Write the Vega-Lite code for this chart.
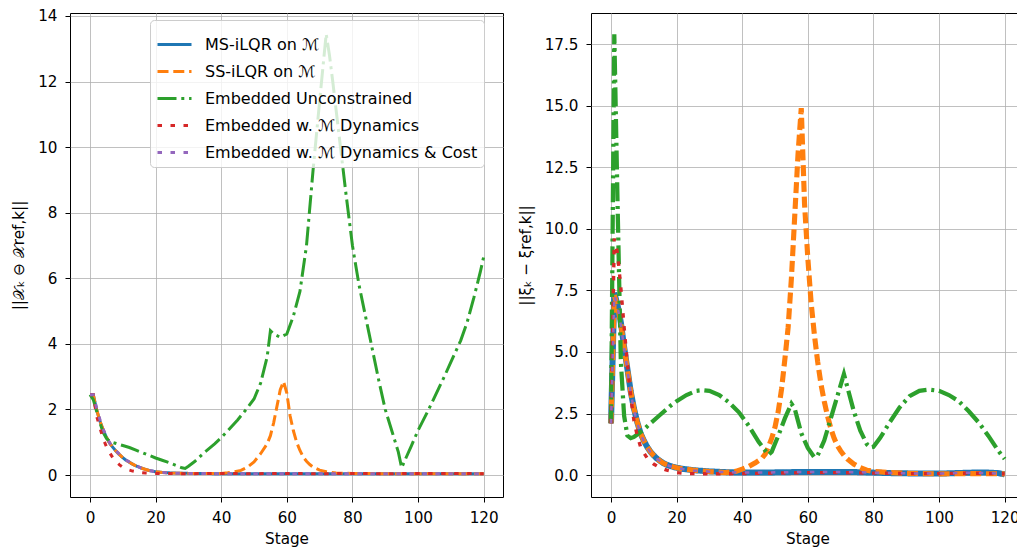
{
  "$schema": "https://vega.github.io/schema/vega-lite/v6.json",
  "padding": {"left": 11, "top": 8, "right": 0, "bottom": 0},
  "spacing": 13,
  "background": "white",
  "config": {
    "font": "DejaVu Sans",
    "view": {"stroke": "black", "strokeWidth": 1},
    "axis": {"domain": false, "grid": true, "gridColor": "#b0b0b0", "gridWidth": 0.8, "tickColor": "black", "tickSize": 5, "tickWidth": 1, "labelFont": "DejaVu Sans", "labelFontSize": 15.2, "labelColor": "black", "titleFont": "DejaVu Sans", "titleFontSize": 15.2, "titleFontWeight": "normal", "titleColor": "black", "labelPadding": 8, "labelFlush": false, "labelOverlap": false}
  },
  "datasets": {
    "left": [
      {"s":0,"v":2.45,"k":"MS-iLQR on ℳ"},{"s":1,"v":2.45,"k":"MS-iLQR on ℳ"},{"s":2,"v":2.0,"k":"MS-iLQR on ℳ"},{"s":3,"v":1.65,"k":"MS-iLQR on ℳ"},{"s":4,"v":1.38,"k":"MS-iLQR on ℳ"},{"s":5,"v":1.15,"k":"MS-iLQR on ℳ"},{"s":6,"v":0.97,"k":"MS-iLQR on ℳ"},{"s":7,"v":0.84,"k":"MS-iLQR on ℳ"},{"s":8,"v":0.72,"k":"MS-iLQR on ℳ"},{"s":9,"v":0.62,"k":"MS-iLQR on ℳ"},{"s":10,"v":0.53,"k":"MS-iLQR on ℳ"},{"s":11,"v":0.45,"k":"MS-iLQR on ℳ"},{"s":12,"v":0.39,"k":"MS-iLQR on ℳ"},{"s":13,"v":0.33,"k":"MS-iLQR on ℳ"},{"s":14,"v":0.28,"k":"MS-iLQR on ℳ"},{"s":15,"v":0.24,"k":"MS-iLQR on ℳ"},{"s":16,"v":0.2,"k":"MS-iLQR on ℳ"},{"s":17,"v":0.17,"k":"MS-iLQR on ℳ"},{"s":18,"v":0.14,"k":"MS-iLQR on ℳ"},{"s":20,"v":0.1,"k":"MS-iLQR on ℳ"},{"s":22,"v":0.08,"k":"MS-iLQR on ℳ"},{"s":25,"v":0.06,"k":"MS-iLQR on ℳ"},{"s":30,"v":0.05,"k":"MS-iLQR on ℳ"},{"s":40,"v":0.04,"k":"MS-iLQR on ℳ"},{"s":50,"v":0.04,"k":"MS-iLQR on ℳ"},{"s":60,"v":0.04,"k":"MS-iLQR on ℳ"},{"s":70,"v":0.04,"k":"MS-iLQR on ℳ"},{"s":80,"v":0.04,"k":"MS-iLQR on ℳ"},{"s":90,"v":0.04,"k":"MS-iLQR on ℳ"},{"s":100,"v":0.04,"k":"MS-iLQR on ℳ"},{"s":110,"v":0.04,"k":"MS-iLQR on ℳ"},{"s":120,"v":0.04,"k":"MS-iLQR on ℳ"},

      {"s":0,"v":2.45,"k":"SS-iLQR on ℳ"},{"s":1,"v":2.45,"k":"SS-iLQR on ℳ"},{"s":2,"v":2.0,"k":"SS-iLQR on ℳ"},{"s":3,"v":1.65,"k":"SS-iLQR on ℳ"},{"s":4,"v":1.38,"k":"SS-iLQR on ℳ"},{"s":5,"v":1.15,"k":"SS-iLQR on ℳ"},{"s":6,"v":0.97,"k":"SS-iLQR on ℳ"},{"s":7,"v":0.84,"k":"SS-iLQR on ℳ"},{"s":8,"v":0.72,"k":"SS-iLQR on ℳ"},{"s":9,"v":0.62,"k":"SS-iLQR on ℳ"},{"s":10,"v":0.53,"k":"SS-iLQR on ℳ"},{"s":11,"v":0.45,"k":"SS-iLQR on ℳ"},{"s":12,"v":0.39,"k":"SS-iLQR on ℳ"},{"s":13,"v":0.33,"k":"SS-iLQR on ℳ"},{"s":14,"v":0.28,"k":"SS-iLQR on ℳ"},{"s":15,"v":0.24,"k":"SS-iLQR on ℳ"},{"s":16,"v":0.2,"k":"SS-iLQR on ℳ"},{"s":17,"v":0.17,"k":"SS-iLQR on ℳ"},{"s":18,"v":0.14,"k":"SS-iLQR on ℳ"},{"s":20,"v":0.1,"k":"SS-iLQR on ℳ"},{"s":22,"v":0.08,"k":"SS-iLQR on ℳ"},{"s":25,"v":0.06,"k":"SS-iLQR on ℳ"},{"s":30,"v":0.05,"k":"SS-iLQR on ℳ"},{"s":35,"v":0.05,"k":"SS-iLQR on ℳ"},{"s":40,"v":0.05,"k":"SS-iLQR on ℳ"},{"s":42,"v":0.07,"k":"SS-iLQR on ℳ"},{"s":44,"v":0.1,"k":"SS-iLQR on ℳ"},{"s":46,"v":0.14,"k":"SS-iLQR on ℳ"},{"s":48,"v":0.24,"k":"SS-iLQR on ℳ"},{"s":50,"v":0.4,"k":"SS-iLQR on ℳ"},{"s":52,"v":0.65,"k":"SS-iLQR on ℳ"},{"s":54,"v":0.95,"k":"SS-iLQR on ℳ"},{"s":55,"v":1.2,"k":"SS-iLQR on ℳ"},{"s":56,"v":1.6,"k":"SS-iLQR on ℳ"},{"s":57,"v":2.1,"k":"SS-iLQR on ℳ"},{"s":58,"v":2.6,"k":"SS-iLQR on ℳ"},{"s":59,"v":2.85,"k":"SS-iLQR on ℳ"},{"s":60,"v":2.5,"k":"SS-iLQR on ℳ"},{"s":61,"v":1.8,"k":"SS-iLQR on ℳ"},{"s":62,"v":1.35,"k":"SS-iLQR on ℳ"},{"s":63,"v":1.0,"k":"SS-iLQR on ℳ"},{"s":64,"v":0.75,"k":"SS-iLQR on ℳ"},{"s":65,"v":0.55,"k":"SS-iLQR on ℳ"},{"s":66,"v":0.42,"k":"SS-iLQR on ℳ"},{"s":67,"v":0.32,"k":"SS-iLQR on ℳ"},{"s":68,"v":0.24,"k":"SS-iLQR on ℳ"},{"s":70,"v":0.15,"k":"SS-iLQR on ℳ"},{"s":72,"v":0.1,"k":"SS-iLQR on ℳ"},{"s":75,"v":0.06,"k":"SS-iLQR on ℳ"},{"s":80,"v":0.05,"k":"SS-iLQR on ℳ"},{"s":90,"v":0.04,"k":"SS-iLQR on ℳ"},{"s":100,"v":0.04,"k":"SS-iLQR on ℳ"},{"s":110,"v":0.04,"k":"SS-iLQR on ℳ"},{"s":120,"v":0.04,"k":"SS-iLQR on ℳ"},

      {"s":0,"v":2.45,"k":"Embedded Unconstrained"},{"s":1,"v":2.3,"k":"Embedded Unconstrained"},{"s":2,"v":1.95,"k":"Embedded Unconstrained"},{"s":3,"v":1.6,"k":"Embedded Unconstrained"},{"s":4,"v":1.3,"k":"Embedded Unconstrained"},{"s":5,"v":1.12,"k":"Embedded Unconstrained"},{"s":6,"v":1.03,"k":"Embedded Unconstrained"},{"s":7,"v":0.99,"k":"Embedded Unconstrained"},{"s":8,"v":0.96,"k":"Embedded Unconstrained"},{"s":10,"v":0.9,"k":"Embedded Unconstrained"},{"s":12,"v":0.84,"k":"Embedded Unconstrained"},{"s":14,"v":0.76,"k":"Embedded Unconstrained"},{"s":16,"v":0.68,"k":"Embedded Unconstrained"},{"s":18,"v":0.6,"k":"Embedded Unconstrained"},{"s":20,"v":0.52,"k":"Embedded Unconstrained"},{"s":22,"v":0.45,"k":"Embedded Unconstrained"},{"s":24,"v":0.38,"k":"Embedded Unconstrained"},{"s":26,"v":0.3,"k":"Embedded Unconstrained"},{"s":28,"v":0.22,"k":"Embedded Unconstrained"},{"s":29,"v":0.2,"k":"Embedded Unconstrained"},{"s":30,"v":0.27,"k":"Embedded Unconstrained"},{"s":32,"v":0.42,"k":"Embedded Unconstrained"},{"s":35,"v":0.7,"k":"Embedded Unconstrained"},{"s":38,"v":0.95,"k":"Embedded Unconstrained"},{"s":40,"v":1.14,"k":"Embedded Unconstrained"},{"s":42,"v":1.35,"k":"Embedded Unconstrained"},{"s":45,"v":1.68,"k":"Embedded Unconstrained"},{"s":48,"v":2.05,"k":"Embedded Unconstrained"},{"s":50,"v":2.32,"k":"Embedded Unconstrained"},{"s":52,"v":2.8,"k":"Embedded Unconstrained"},{"s":54,"v":3.6,"k":"Embedded Unconstrained"},{"s":55,"v":4.4,"k":"Embedded Unconstrained"},{"s":56,"v":4.3,"k":"Embedded Unconstrained"},{"s":58,"v":4.2,"k":"Embedded Unconstrained"},{"s":60,"v":4.3,"k":"Embedded Unconstrained"},{"s":62,"v":4.85,"k":"Embedded Unconstrained"},{"s":64,"v":5.6,"k":"Embedded Unconstrained"},{"s":66,"v":7.0,"k":"Embedded Unconstrained"},{"s":68,"v":9.3,"k":"Embedded Unconstrained"},{"s":70,"v":11.4,"k":"Embedded Unconstrained"},{"s":72,"v":13.45,"k":"Embedded Unconstrained"},{"s":73,"v":12.8,"k":"Embedded Unconstrained"},{"s":74,"v":12.0,"k":"Embedded Unconstrained"},{"s":76,"v":10.3,"k":"Embedded Unconstrained"},{"s":78,"v":8.6,"k":"Embedded Unconstrained"},{"s":80,"v":7.0,"k":"Embedded Unconstrained"},{"s":82,"v":5.8,"k":"Embedded Unconstrained"},{"s":85,"v":4.35,"k":"Embedded Unconstrained"},{"s":88,"v":2.9,"k":"Embedded Unconstrained"},{"s":90,"v":2.0,"k":"Embedded Unconstrained"},{"s":92,"v":1.35,"k":"Embedded Unconstrained"},{"s":94,"v":0.7,"k":"Embedded Unconstrained"},{"s":95,"v":0.22,"k":"Embedded Unconstrained"},{"s":96,"v":0.45,"k":"Embedded Unconstrained"},{"s":98,"v":0.9,"k":"Embedded Unconstrained"},{"s":100,"v":1.36,"k":"Embedded Unconstrained"},{"s":103,"v":1.95,"k":"Embedded Unconstrained"},{"s":105,"v":2.37,"k":"Embedded Unconstrained"},{"s":108,"v":3.0,"k":"Embedded Unconstrained"},{"s":110,"v":3.44,"k":"Embedded Unconstrained"},{"s":113,"v":4.1,"k":"Embedded Unconstrained"},{"s":115,"v":4.67,"k":"Embedded Unconstrained"},{"s":117,"v":5.4,"k":"Embedded Unconstrained"},{"s":119,"v":6.2,"k":"Embedded Unconstrained"},{"s":120,"v":6.65,"k":"Embedded Unconstrained"},

      {"s":0,"v":2.45,"k":"Embedded w. ℳ Dynamics"},{"s":1,"v":2.45,"k":"Embedded w. ℳ Dynamics"},{"s":2,"v":1.8,"k":"Embedded w. ℳ Dynamics"},{"s":3,"v":1.45,"k":"Embedded w. ℳ Dynamics"},{"s":4,"v":1.1,"k":"Embedded w. ℳ Dynamics"},{"s":5,"v":0.87,"k":"Embedded w. ℳ Dynamics"},{"s":6,"v":0.68,"k":"Embedded w. ℳ Dynamics"},{"s":7,"v":0.52,"k":"Embedded w. ℳ Dynamics"},{"s":8,"v":0.4,"k":"Embedded w. ℳ Dynamics"},{"s":9,"v":0.31,"k":"Embedded w. ℳ Dynamics"},{"s":10,"v":0.24,"k":"Embedded w. ℳ Dynamics"},{"s":11,"v":0.19,"k":"Embedded w. ℳ Dynamics"},{"s":12,"v":0.15,"k":"Embedded w. ℳ Dynamics"},{"s":13,"v":0.12,"k":"Embedded w. ℳ Dynamics"},{"s":14,"v":0.1,"k":"Embedded w. ℳ Dynamics"},{"s":15,"v":0.08,"k":"Embedded w. ℳ Dynamics"},{"s":17,"v":0.06,"k":"Embedded w. ℳ Dynamics"},{"s":20,"v":0.05,"k":"Embedded w. ℳ Dynamics"},{"s":30,"v":0.04,"k":"Embedded w. ℳ Dynamics"},{"s":40,"v":0.05,"k":"Embedded w. ℳ Dynamics"},{"s":50,"v":0.04,"k":"Embedded w. ℳ Dynamics"},{"s":60,"v":0.05,"k":"Embedded w. ℳ Dynamics"},{"s":70,"v":0.04,"k":"Embedded w. ℳ Dynamics"},{"s":80,"v":0.05,"k":"Embedded w. ℳ Dynamics"},{"s":90,"v":0.04,"k":"Embedded w. ℳ Dynamics"},{"s":100,"v":0.05,"k":"Embedded w. ℳ Dynamics"},{"s":110,"v":0.05,"k":"Embedded w. ℳ Dynamics"},{"s":120,"v":0.04,"k":"Embedded w. ℳ Dynamics"},

      {"s":0,"v":2.45,"k":"Embedded w. ℳ Dynamics & Cost"},{"s":1,"v":2.45,"k":"Embedded w. ℳ Dynamics & Cost"},{"s":2,"v":2.05,"k":"Embedded w. ℳ Dynamics & Cost"},{"s":3,"v":1.7,"k":"Embedded w. ℳ Dynamics & Cost"},{"s":4,"v":1.4,"k":"Embedded w. ℳ Dynamics & Cost"},{"s":5,"v":1.17,"k":"Embedded w. ℳ Dynamics & Cost"},{"s":6,"v":0.98,"k":"Embedded w. ℳ Dynamics & Cost"},{"s":7,"v":0.85,"k":"Embedded w. ℳ Dynamics & Cost"},{"s":8,"v":0.73,"k":"Embedded w. ℳ Dynamics & Cost"},{"s":9,"v":0.63,"k":"Embedded w. ℳ Dynamics & Cost"},{"s":10,"v":0.54,"k":"Embedded w. ℳ Dynamics & Cost"},{"s":11,"v":0.46,"k":"Embedded w. ℳ Dynamics & Cost"},{"s":12,"v":0.4,"k":"Embedded w. ℳ Dynamics & Cost"},{"s":13,"v":0.34,"k":"Embedded w. ℳ Dynamics & Cost"},{"s":14,"v":0.29,"k":"Embedded w. ℳ Dynamics & Cost"},{"s":15,"v":0.24,"k":"Embedded w. ℳ Dynamics & Cost"},{"s":16,"v":0.2,"k":"Embedded w. ℳ Dynamics & Cost"},{"s":17,"v":0.17,"k":"Embedded w. ℳ Dynamics & Cost"},{"s":18,"v":0.14,"k":"Embedded w. ℳ Dynamics & Cost"},{"s":20,"v":0.1,"k":"Embedded w. ℳ Dynamics & Cost"},{"s":22,"v":0.08,"k":"Embedded w. ℳ Dynamics & Cost"},{"s":25,"v":0.06,"k":"Embedded w. ℳ Dynamics & Cost"},{"s":30,"v":0.05,"k":"Embedded w. ℳ Dynamics & Cost"},{"s":40,"v":0.04,"k":"Embedded w. ℳ Dynamics & Cost"},{"s":60,"v":0.04,"k":"Embedded w. ℳ Dynamics & Cost"},{"s":80,"v":0.04,"k":"Embedded w. ℳ Dynamics & Cost"},{"s":100,"v":0.04,"k":"Embedded w. ℳ Dynamics & Cost"},{"s":120,"v":0.04,"k":"Embedded w. ℳ Dynamics & Cost"}
    ],
    "right": [
      {"s":0,"v":2.1,"k":"MS-iLQR on ℳ"},{"s":1,"v":7.4,"k":"MS-iLQR on ℳ"},{"s":2,"v":6.9,"k":"MS-iLQR on ℳ"},{"s":3,"v":6.2,"k":"MS-iLQR on ℳ"},{"s":4,"v":5.2,"k":"MS-iLQR on ℳ"},{"s":5,"v":4.3,"k":"MS-iLQR on ℳ"},{"s":6,"v":3.4,"k":"MS-iLQR on ℳ"},{"s":7,"v":2.7,"k":"MS-iLQR on ℳ"},{"s":8,"v":2.15,"k":"MS-iLQR on ℳ"},{"s":9,"v":1.7,"k":"MS-iLQR on ℳ"},{"s":10,"v":1.4,"k":"MS-iLQR on ℳ"},{"s":11,"v":1.15,"k":"MS-iLQR on ℳ"},{"s":12,"v":0.95,"k":"MS-iLQR on ℳ"},{"s":13,"v":0.8,"k":"MS-iLQR on ℳ"},{"s":14,"v":0.67,"k":"MS-iLQR on ℳ"},{"s":15,"v":0.57,"k":"MS-iLQR on ℳ"},{"s":16,"v":0.48,"k":"MS-iLQR on ℳ"},{"s":17,"v":0.42,"k":"MS-iLQR on ℳ"},{"s":18,"v":0.37,"k":"MS-iLQR on ℳ"},{"s":19,"v":0.33,"k":"MS-iLQR on ℳ"},{"s":20,"v":0.3,"k":"MS-iLQR on ℳ"},{"s":22,"v":0.25,"k":"MS-iLQR on ℳ"},{"s":25,"v":0.2,"k":"MS-iLQR on ℳ"},{"s":28,"v":0.17,"k":"MS-iLQR on ℳ"},{"s":30,"v":0.15,"k":"MS-iLQR on ℳ"},{"s":35,"v":0.12,"k":"MS-iLQR on ℳ"},{"s":40,"v":0.1,"k":"MS-iLQR on ℳ"},{"s":45,"v":0.1,"k":"MS-iLQR on ℳ"},{"s":50,"v":0.11,"k":"MS-iLQR on ℳ"},{"s":55,"v":0.12,"k":"MS-iLQR on ℳ"},{"s":60,"v":0.13,"k":"MS-iLQR on ℳ"},{"s":65,"v":0.13,"k":"MS-iLQR on ℳ"},{"s":70,"v":0.13,"k":"MS-iLQR on ℳ"},{"s":75,"v":0.12,"k":"MS-iLQR on ℳ"},{"s":80,"v":0.1,"k":"MS-iLQR on ℳ"},{"s":85,"v":0.08,"k":"MS-iLQR on ℳ"},{"s":90,"v":0.07,"k":"MS-iLQR on ℳ"},{"s":95,"v":0.06,"k":"MS-iLQR on ℳ"},{"s":100,"v":0.06,"k":"MS-iLQR on ℳ"},{"s":105,"v":0.08,"k":"MS-iLQR on ℳ"},{"s":110,"v":0.1,"k":"MS-iLQR on ℳ"},{"s":115,"v":0.1,"k":"MS-iLQR on ℳ"},{"s":118,"v":0.08,"k":"MS-iLQR on ℳ"},{"s":120,"v":0.03,"k":"MS-iLQR on ℳ"},

      {"s":0,"v":2.1,"k":"SS-iLQR on ℳ"},{"s":1,"v":7.3,"k":"SS-iLQR on ℳ"},{"s":2,"v":6.85,"k":"SS-iLQR on ℳ"},{"s":3,"v":6.15,"k":"SS-iLQR on ℳ"},{"s":4,"v":5.2,"k":"SS-iLQR on ℳ"},{"s":5,"v":4.3,"k":"SS-iLQR on ℳ"},{"s":6,"v":3.4,"k":"SS-iLQR on ℳ"},{"s":7,"v":2.7,"k":"SS-iLQR on ℳ"},{"s":8,"v":2.15,"k":"SS-iLQR on ℳ"},{"s":9,"v":1.7,"k":"SS-iLQR on ℳ"},{"s":10,"v":1.4,"k":"SS-iLQR on ℳ"},{"s":11,"v":1.15,"k":"SS-iLQR on ℳ"},{"s":12,"v":0.95,"k":"SS-iLQR on ℳ"},{"s":13,"v":0.8,"k":"SS-iLQR on ℳ"},{"s":14,"v":0.67,"k":"SS-iLQR on ℳ"},{"s":15,"v":0.57,"k":"SS-iLQR on ℳ"},{"s":16,"v":0.48,"k":"SS-iLQR on ℳ"},{"s":17,"v":0.42,"k":"SS-iLQR on ℳ"},{"s":18,"v":0.37,"k":"SS-iLQR on ℳ"},{"s":20,"v":0.3,"k":"SS-iLQR on ℳ"},{"s":22,"v":0.25,"k":"SS-iLQR on ℳ"},{"s":25,"v":0.2,"k":"SS-iLQR on ℳ"},{"s":30,"v":0.14,"k":"SS-iLQR on ℳ"},{"s":35,"v":0.1,"k":"SS-iLQR on ℳ"},{"s":38,"v":0.15,"k":"SS-iLQR on ℳ"},{"s":40,"v":0.24,"k":"SS-iLQR on ℳ"},{"s":42,"v":0.35,"k":"SS-iLQR on ℳ"},{"s":44,"v":0.5,"k":"SS-iLQR on ℳ"},{"s":46,"v":0.68,"k":"SS-iLQR on ℳ"},{"s":47,"v":0.85,"k":"SS-iLQR on ℳ"},{"s":48,"v":1.15,"k":"SS-iLQR on ℳ"},{"s":49,"v":1.5,"k":"SS-iLQR on ℳ"},{"s":50,"v":1.95,"k":"SS-iLQR on ℳ"},{"s":51,"v":2.6,"k":"SS-iLQR on ℳ"},{"s":52,"v":3.5,"k":"SS-iLQR on ℳ"},{"s":53,"v":4.7,"k":"SS-iLQR on ℳ"},{"s":54,"v":6.0,"k":"SS-iLQR on ℳ"},{"s":55,"v":8.0,"k":"SS-iLQR on ℳ"},{"s":56,"v":10.5,"k":"SS-iLQR on ℳ"},{"s":57,"v":13.0,"k":"SS-iLQR on ℳ"},{"s":58,"v":14.9,"k":"SS-iLQR on ℳ"},{"s":59,"v":11.0,"k":"SS-iLQR on ℳ"},{"s":60,"v":8.8,"k":"SS-iLQR on ℳ"},{"s":61,"v":7.0,"k":"SS-iLQR on ℳ"},{"s":62,"v":5.7,"k":"SS-iLQR on ℳ"},{"s":63,"v":4.6,"k":"SS-iLQR on ℳ"},{"s":64,"v":3.7,"k":"SS-iLQR on ℳ"},{"s":65,"v":3.0,"k":"SS-iLQR on ℳ"},{"s":66,"v":2.4,"k":"SS-iLQR on ℳ"},{"s":67,"v":1.9,"k":"SS-iLQR on ℳ"},{"s":68,"v":1.5,"k":"SS-iLQR on ℳ"},{"s":69,"v":1.2,"k":"SS-iLQR on ℳ"},{"s":70,"v":0.98,"k":"SS-iLQR on ℳ"},{"s":71,"v":0.8,"k":"SS-iLQR on ℳ"},{"s":72,"v":0.66,"k":"SS-iLQR on ℳ"},{"s":74,"v":0.45,"k":"SS-iLQR on ℳ"},{"s":76,"v":0.3,"k":"SS-iLQR on ℳ"},{"s":78,"v":0.2,"k":"SS-iLQR on ℳ"},{"s":80,"v":0.15,"k":"SS-iLQR on ℳ"},{"s":85,"v":0.1,"k":"SS-iLQR on ℳ"},{"s":90,"v":0.07,"k":"SS-iLQR on ℳ"},{"s":100,"v":0.05,"k":"SS-iLQR on ℳ"},{"s":110,"v":0.06,"k":"SS-iLQR on ℳ"},{"s":120,"v":0.05,"k":"SS-iLQR on ℳ"},

      {"s":0,"v":2.1,"k":"Embedded Unconstrained"},{"s":1,"v":17.9,"k":"Embedded Unconstrained"},{"s":2,"v":11.0,"k":"Embedded Unconstrained"},{"s":3,"v":4.6,"k":"Embedded Unconstrained"},{"s":4,"v":2.4,"k":"Embedded Unconstrained"},{"s":5,"v":1.6,"k":"Embedded Unconstrained"},{"s":6,"v":1.5,"k":"Embedded Unconstrained"},{"s":7,"v":1.55,"k":"Embedded Unconstrained"},{"s":8,"v":1.65,"k":"Embedded Unconstrained"},{"s":10,"v":1.85,"k":"Embedded Unconstrained"},{"s":12,"v":2.1,"k":"Embedded Unconstrained"},{"s":15,"v":2.45,"k":"Embedded Unconstrained"},{"s":18,"v":2.8,"k":"Embedded Unconstrained"},{"s":20,"v":3.0,"k":"Embedded Unconstrained"},{"s":23,"v":3.25,"k":"Embedded Unconstrained"},{"s":26,"v":3.42,"k":"Embedded Unconstrained"},{"s":28,"v":3.45,"k":"Embedded Unconstrained"},{"s":30,"v":3.42,"k":"Embedded Unconstrained"},{"s":33,"v":3.25,"k":"Embedded Unconstrained"},{"s":36,"v":2.95,"k":"Embedded Unconstrained"},{"s":39,"v":2.55,"k":"Embedded Unconstrained"},{"s":42,"v":2.0,"k":"Embedded Unconstrained"},{"s":45,"v":1.35,"k":"Embedded Unconstrained"},{"s":48,"v":0.82,"k":"Embedded Unconstrained"},{"s":49,"v":0.95,"k":"Embedded Unconstrained"},{"s":51,"v":1.6,"k":"Embedded Unconstrained"},{"s":53,"v":2.3,"k":"Embedded Unconstrained"},{"s":55,"v":2.9,"k":"Embedded Unconstrained"},{"s":56,"v":2.7,"k":"Embedded Unconstrained"},{"s":57,"v":2.2,"k":"Embedded Unconstrained"},{"s":58,"v":1.7,"k":"Embedded Unconstrained"},{"s":60,"v":1.1,"k":"Embedded Unconstrained"},{"s":62,"v":0.72,"k":"Embedded Unconstrained"},{"s":63,"v":0.8,"k":"Embedded Unconstrained"},{"s":65,"v":1.4,"k":"Embedded Unconstrained"},{"s":67,"v":2.3,"k":"Embedded Unconstrained"},{"s":69,"v":3.2,"k":"Embedded Unconstrained"},{"s":71,"v":4.1,"k":"Embedded Unconstrained"},{"s":72,"v":3.6,"k":"Embedded Unconstrained"},{"s":74,"v":2.6,"k":"Embedded Unconstrained"},{"s":76,"v":1.8,"k":"Embedded Unconstrained"},{"s":78,"v":1.25,"k":"Embedded Unconstrained"},{"s":79,"v":1.12,"k":"Embedded Unconstrained"},{"s":80,"v":1.15,"k":"Embedded Unconstrained"},{"s":82,"v":1.5,"k":"Embedded Unconstrained"},{"s":85,"v":2.15,"k":"Embedded Unconstrained"},{"s":88,"v":2.75,"k":"Embedded Unconstrained"},{"s":91,"v":3.2,"k":"Embedded Unconstrained"},{"s":94,"v":3.42,"k":"Embedded Unconstrained"},{"s":97,"v":3.47,"k":"Embedded Unconstrained"},{"s":100,"v":3.42,"k":"Embedded Unconstrained"},{"s":103,"v":3.25,"k":"Embedded Unconstrained"},{"s":106,"v":3.0,"k":"Embedded Unconstrained"},{"s":109,"v":2.6,"k":"Embedded Unconstrained"},{"s":112,"v":2.15,"k":"Embedded Unconstrained"},{"s":115,"v":1.6,"k":"Embedded Unconstrained"},{"s":118,"v":1.0,"k":"Embedded Unconstrained"},{"s":120,"v":0.65,"k":"Embedded Unconstrained"},

      {"s":0,"v":2.1,"k":"Embedded w. ℳ Dynamics"},{"s":1,"v":9.6,"k":"Embedded w. ℳ Dynamics"},{"s":2,"v":9.0,"k":"Embedded w. ℳ Dynamics"},{"s":3,"v":7.6,"k":"Embedded w. ℳ Dynamics"},{"s":4,"v":6.0,"k":"Embedded w. ℳ Dynamics"},{"s":5,"v":4.5,"k":"Embedded w. ℳ Dynamics"},{"s":6,"v":3.2,"k":"Embedded w. ℳ Dynamics"},{"s":7,"v":2.2,"k":"Embedded w. ℳ Dynamics"},{"s":8,"v":1.6,"k":"Embedded w. ℳ Dynamics"},{"s":9,"v":1.15,"k":"Embedded w. ℳ Dynamics"},{"s":10,"v":0.9,"k":"Embedded w. ℳ Dynamics"},{"s":11,"v":0.7,"k":"Embedded w. ℳ Dynamics"},{"s":12,"v":0.55,"k":"Embedded w. ℳ Dynamics"},{"s":13,"v":0.45,"k":"Embedded w. ℳ Dynamics"},{"s":14,"v":0.37,"k":"Embedded w. ℳ Dynamics"},{"s":15,"v":0.3,"k":"Embedded w. ℳ Dynamics"},{"s":17,"v":0.2,"k":"Embedded w. ℳ Dynamics"},{"s":20,"v":0.1,"k":"Embedded w. ℳ Dynamics"},{"s":23,"v":0.06,"k":"Embedded w. ℳ Dynamics"},{"s":30,"v":0.05,"k":"Embedded w. ℳ Dynamics"},{"s":40,"v":0.06,"k":"Embedded w. ℳ Dynamics"},{"s":50,"v":0.08,"k":"Embedded w. ℳ Dynamics"},{"s":60,"v":0.1,"k":"Embedded w. ℳ Dynamics"},{"s":70,"v":0.1,"k":"Embedded w. ℳ Dynamics"},{"s":80,"v":0.08,"k":"Embedded w. ℳ Dynamics"},{"s":90,"v":0.06,"k":"Embedded w. ℳ Dynamics"},{"s":100,"v":0.06,"k":"Embedded w. ℳ Dynamics"},{"s":110,"v":0.08,"k":"Embedded w. ℳ Dynamics"},{"s":120,"v":0.05,"k":"Embedded w. ℳ Dynamics"},

      {"s":0,"v":2.1,"k":"Embedded w. ℳ Dynamics & Cost"},{"s":1,"v":7.3,"k":"Embedded w. ℳ Dynamics & Cost"},{"s":2,"v":6.85,"k":"Embedded w. ℳ Dynamics & Cost"},{"s":3,"v":6.1,"k":"Embedded w. ℳ Dynamics & Cost"},{"s":4,"v":5.15,"k":"Embedded w. ℳ Dynamics & Cost"},{"s":5,"v":4.25,"k":"Embedded w. ℳ Dynamics & Cost"},{"s":6,"v":3.35,"k":"Embedded w. ℳ Dynamics & Cost"},{"s":7,"v":2.65,"k":"Embedded w. ℳ Dynamics & Cost"},{"s":8,"v":2.1,"k":"Embedded w. ℳ Dynamics & Cost"},{"s":9,"v":1.68,"k":"Embedded w. ℳ Dynamics & Cost"},{"s":10,"v":1.38,"k":"Embedded w. ℳ Dynamics & Cost"},{"s":11,"v":1.13,"k":"Embedded w. ℳ Dynamics & Cost"},{"s":12,"v":0.93,"k":"Embedded w. ℳ Dynamics & Cost"},{"s":13,"v":0.78,"k":"Embedded w. ℳ Dynamics & Cost"},{"s":14,"v":0.66,"k":"Embedded w. ℳ Dynamics & Cost"},{"s":15,"v":0.56,"k":"Embedded w. ℳ Dynamics & Cost"},{"s":16,"v":0.47,"k":"Embedded w. ℳ Dynamics & Cost"},{"s":17,"v":0.41,"k":"Embedded w. ℳ Dynamics & Cost"},{"s":18,"v":0.36,"k":"Embedded w. ℳ Dynamics & Cost"},{"s":20,"v":0.29,"k":"Embedded w. ℳ Dynamics & Cost"},{"s":22,"v":0.24,"k":"Embedded w. ℳ Dynamics & Cost"},{"s":25,"v":0.19,"k":"Embedded w. ℳ Dynamics & Cost"},{"s":30,"v":0.14,"k":"Embedded w. ℳ Dynamics & Cost"},{"s":40,"v":0.1,"k":"Embedded w. ℳ Dynamics & Cost"},{"s":50,"v":0.11,"k":"Embedded w. ℳ Dynamics & Cost"},{"s":60,"v":0.13,"k":"Embedded w. ℳ Dynamics & Cost"},{"s":70,"v":0.13,"k":"Embedded w. ℳ Dynamics & Cost"},{"s":80,"v":0.1,"k":"Embedded w. ℳ Dynamics & Cost"},{"s":90,"v":0.07,"k":"Embedded w. ℳ Dynamics & Cost"},{"s":100,"v":0.06,"k":"Embedded w. ℳ Dynamics & Cost"},{"s":110,"v":0.1,"k":"Embedded w. ℳ Dynamics & Cost"},{"s":120,"v":0.05,"k":"Embedded w. ℳ Dynamics & Cost"}
    ]
  },
  "hconcat": [
    {
      "width": 433,
      "height": 484,
      "data": {"name": "left"},
      "mark": {"type": "line", "clip": true, "strokeCap": "butt"},
      "encoding": {
        "x": {"field": "s", "type": "quantitative", "scale": {"domain": [-6.1, 125.9], "nice": false, "zero": false}, "axis": {"values": [0, 20, 40, 60, 80, 100, 120], "title": "Stage", "titlePadding": 6}},
        "y": {"field": "v", "type": "quantitative", "scale": {"domain": [-0.67, 14.09], "nice": false, "zero": false}, "axis": {"values": [0, 2, 4, 6, 8, 10, 12, 14], "title": "||𝒳ₖ ⊖ 𝒳ref,k||", "titlePadding": 11}},
        "color": {
          "field": "k", "type": "nominal",
          "scale": {"domain": ["MS-iLQR on ℳ", "SS-iLQR on ℳ", "Embedded Unconstrained", "Embedded w. ℳ Dynamics", "Embedded w. ℳ Dynamics & Cost"], "range": ["#1f77b4", "#ff7f0e", "#2ca02c", "#d62728", "#9467bd"]},
          "legend": {"title": null, "orient": "none", "legendX": 80, "legendY": 7, "symbolType": "stroke", "symbolSize": 1156, "labelFont": "DejaVu Sans", "labelFontSize": 16, "labelColor": "black", "labelLimit": 500, "labelOffset": 12, "rowPadding": 0, "padding": 6, "fillColor": "rgba(255,255,255,0.8)", "strokeColor": "#cccccc", "cornerRadius": 4}
        },
        "strokeDash": {
          "field": "k", "type": "nominal",
          "scale": {"domain": ["MS-iLQR on ℳ", "SS-iLQR on ℳ", "Embedded Unconstrained", "Embedded w. ℳ Dynamics", "Embedded w. ℳ Dynamics & Cost"], "range": [[1, 0], [11, 4.8], [19, 4.8, 3, 4.8], [4.5, 8.5], [4.5, 8.5]]}
        },
        "strokeWidth": {
          "field": "k", "type": "nominal",
          "scale": {"domain": ["MS-iLQR on ℳ", "SS-iLQR on ℳ", "Embedded Unconstrained", "Embedded w. ℳ Dynamics", "Embedded w. ℳ Dynamics & Cost"], "range": [3, 3, 3, 4.5, 4.5]}
        }
      }
    },
    {
      "width": 433,
      "height": 484,
      "data": {"name": "right"},
      "mark": {"type": "line", "clip": true, "strokeCap": "butt"},
      "encoding": {
        "x": {"field": "s", "type": "quantitative", "scale": {"domain": [-6.1, 125.9], "nice": false, "zero": false}, "axis": {"values": [0, 20, 40, 60, 80, 100, 120], "title": "Stage", "titlePadding": 6}},
        "y": {"field": "v", "type": "quantitative", "scale": {"domain": [-0.89, 18.76], "nice": false, "zero": false}, "axis": {"values": [0, 2.5, 5, 7.5, 10, 12.5, 15, 17.5], "format": ".1f", "title": "||ξₖ − ξref,k||", "titlePadding": 11}},
        "color": {
          "field": "k", "type": "nominal",
          "scale": {"domain": ["MS-iLQR on ℳ", "SS-iLQR on ℳ", "Embedded Unconstrained", "Embedded w. ℳ Dynamics", "Embedded w. ℳ Dynamics & Cost"], "range": ["#1f77b4", "#ff7f0e", "#2ca02c", "#d62728", "#9467bd"]},
          "legend": null
        },
        "strokeDash": {
          "field": "k", "type": "nominal",
          "scale": {"domain": ["MS-iLQR on ℳ", "SS-iLQR on ℳ", "Embedded Unconstrained", "Embedded w. ℳ Dynamics", "Embedded w. ℳ Dynamics & Cost"], "range": [[1, 0], [11, 4.8], [19, 4.8, 3, 4.8], [4.5, 8.5], [4.5, 8.5]]},
          "legend": null
        },
        "strokeWidth": {
          "field": "k", "type": "nominal",
          "scale": {"domain": ["MS-iLQR on ℳ", "SS-iLQR on ℳ", "Embedded Unconstrained", "Embedded w. ℳ Dynamics", "Embedded w. ℳ Dynamics & Cost"], "range": [6, 2.5, 2.6, 4.5, 4.5]},
          "legend": null
        }
      }
    }
  ],
  "resolve": {
    "scale": {"color": "independent", "strokeDash": "independent", "strokeWidth": "independent"},
    "legend": {"color": "independent", "strokeDash": "independent", "strokeWidth": "independent"}
  }
}
